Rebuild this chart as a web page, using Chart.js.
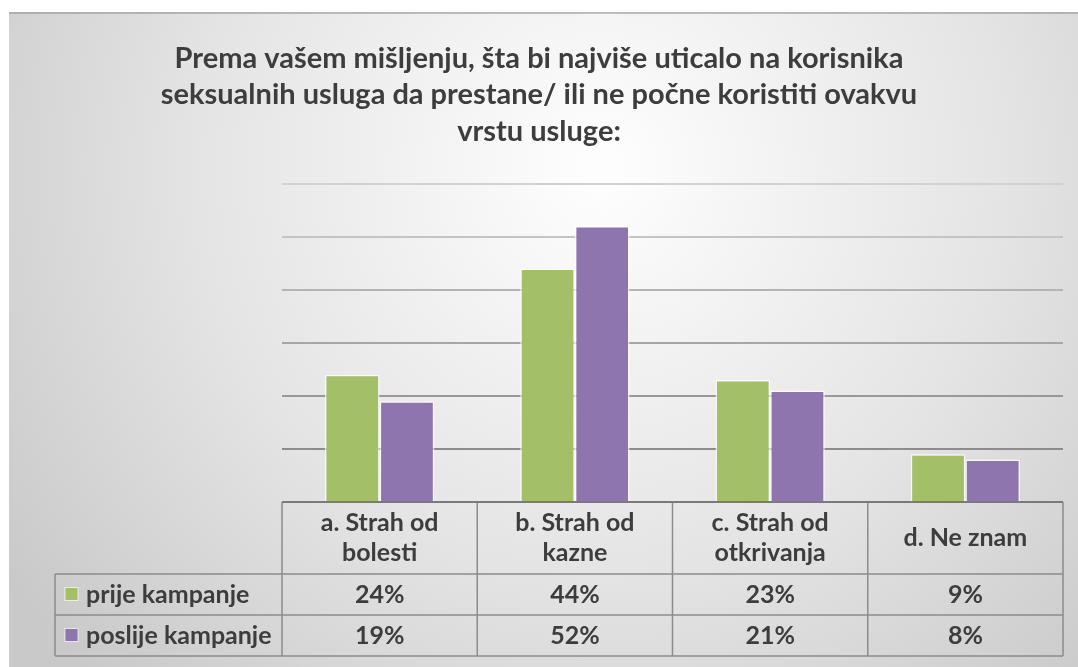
<!DOCTYPE html>
<html lang="sr">
<head>
<meta charset="UTF-8" />
<title>Prema vašem mišljenju</title>
<script src="https://cdn.jsdelivr.net/npm/chart.js"></script>
<style>
  html, body { margin: 0; padding: 0; background: #fff; }
  #wrap { width: 1078px; height: 667px; position: relative; }
</style>
</head>
<body>
<div id="wrap"><canvas id="chart" width="1078" height="667"></canvas></div>
<script>
// podaci
const categories = [
  ['a. Strah od', 'bolesti'],
  ['b. Strah od', 'kazne'],
  ['c. Strah od', 'otkrivanja'],
  ['d. Ne znam']
];
const seriesNames = ['prije kampanje', 'poslije kampanje'];
const prije = [24, 44, 23, 9];
const poslije = [19, 52, 21, 8];
const seriesColors = ['#a3c068', '#8e75ad'];

const titleLines = [
  'Prema vašem mišljenju, šta bi najviše uticalo na korisnika',
  'seksualnih usluga da prestane/ ili ne počne koristiti ovakvu',
  'vrstu usluge:'
];

const FONT = 'Lato, "Open Sans", sans-serif';
const TEXT = '#3d3d3d';
const HEADER_H = 72, ROW_H = 41, LEFT_X = 55;

// pozadina okvira
const bgPlugin = {
  id: 'bg',
  beforeDraw(chart) {
    const c = chart.ctx;
    c.save();
    c.fillStyle = '#fff';
    c.fillRect(0, 0, chart.width, chart.height);
    const g = c.createRadialGradient(600, 170, 20, 600, 170, 720);
    g.addColorStop(0, '#fdfdfd');
    g.addColorStop(0.55, '#e4e4e4');
    g.addColorStop(1, '#c9c9c9');
    c.fillStyle = g;
    c.fillRect(9, 12, chart.width - 9, chart.height - 12);
    c.fillStyle = 'rgba(150,150,150,0.6)';
    c.fillRect(9, 12, chart.width - 9, 2);
    c.restore();
  }
};

// tabela podataka ispod grafikona
const tablePlugin = {
  id: 'dataTable',
  afterDraw(chart) {
    const c = chart.ctx;
    const x = chart.scales.x;
    const area = chart.chartArea;
    const top = area.bottom;
    const rowTop = top + HEADER_H;
    const bottom = rowTop + 2 * ROW_H;
    const edges = [];
    for (let i = 0; i <= categories.length; i++) {
      edges.push(i === categories.length ? area.right :
        (i === 0 ? area.left : (x.getPixelForValue(i - 1) + x.getPixelForValue(i)) / 2));
    }
    c.save();
    c.strokeStyle = '#8c8c8c';
    c.lineWidth = 1.5;
    c.beginPath();
    c.moveTo(LEFT_X, rowTop); c.lineTo(area.right, rowTop);
    c.moveTo(LEFT_X, rowTop + ROW_H); c.lineTo(area.right, rowTop + ROW_H);
    c.moveTo(LEFT_X, bottom); c.lineTo(area.right, bottom);
    c.moveTo(LEFT_X, rowTop); c.lineTo(LEFT_X, bottom);
    edges.forEach(e => { c.moveTo(e, top); c.lineTo(e, bottom); });
    c.stroke();
    c.strokeStyle = '#7a7a7a';
    c.lineWidth = 2;
    c.beginPath();
    c.moveTo(area.left, top); c.lineTo(area.right, top);
    c.stroke();

    c.fillStyle = TEXT;
    c.textAlign = 'center';
    c.textBaseline = 'middle';
    c.font = 'bold 25px ' + FONT;
    categories.forEach((lines, i) => {
      const cx = x.getPixelForValue(i);
      const lh = 30;
      const y0 = top + HEADER_H / 2 - (lines.length - 1) * lh / 2;
      lines.forEach((l, k) => c.fillText(l, cx, y0 + k * lh));
    });
    [prije, poslije].forEach((vals, r) => {
      const cy = rowTop + ROW_H * r + ROW_H / 2;
      c.textAlign = 'center';
      c.fillStyle = TEXT;
      vals.forEach((v, i) => c.fillText(v + '%', x.getPixelForValue(i), cy));
      c.fillStyle = seriesColors[r];
      c.fillRect(LEFT_X + 10, cy - 7, 13, 13);
      c.strokeStyle = 'rgba(255,255,255,0.7)';
      c.lineWidth = 1;
      c.strokeRect(LEFT_X + 10, cy - 7, 13, 13);
      c.fillStyle = TEXT;
      c.textAlign = 'left';
      c.fillText(seriesNames[r], LEFT_X + 31, cy);
    });
    c.restore();
  }
};

const gridColors = ['#7a7a7a', '#8c8c8c', '#999999', '#a6a6a6', '#b4b4b4', '#c4c4c4', '#d2d2d2'];

new Chart(document.getElementById('chart'), {
  type: 'bar',
  data: {
    labels: categories.map(l => l.join(' ')),
    datasets: [
      { label: seriesNames[0], data: prije, backgroundColor: seriesColors[0] },
      { label: seriesNames[1], data: poslije, backgroundColor: seriesColors[1] }
    ]
  },
  options: {
    responsive: false,
    animation: false,
    layout: { padding: { left: 15, right: 15, top: 40, bottom: 2 * ROW_H + HEADER_H + 11 } },
    datasets: {
      bar: {
        categoryPercentage: 0.56,
        barPercentage: 1.0,
        borderColor: 'rgba(255,255,255,0.75)',
        borderWidth: 1.5
      }
    },
    scales: {
      x: { display: false },
      y: {
        min: 0, max: 60,
        afterFit: s => { s.width = 267; },
        ticks: { display: false, stepSize: 10 },
        border: { display: false },
        grid: {
          drawTicks: false,
          lineWidth: 2,
          color: ctx => gridColors[ctx.index] || '#aaa'
        }
      }
    },
    plugins: {
      legend: { display: false },
      tooltip: { enabled: false },
      title: {
        display: true,
        text: titleLines,
        color: TEXT,
        font: { family: FONT, size: 29, weight: 'bold', lineHeight: 1.26 },
        padding: { top: 0, bottom: 34 }
      }
    }
  },
  plugins: [bgPlugin, tablePlugin]
});
</script>
</body>
</html>
